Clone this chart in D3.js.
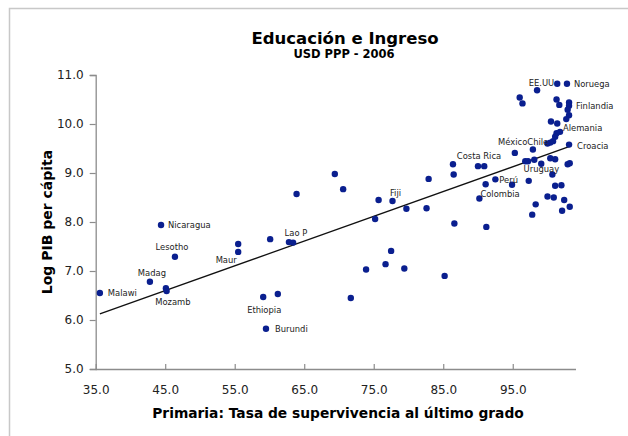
<!DOCTYPE html>
<html>
<head>
<meta charset="utf-8">
<script src="https://cdn.jsdelivr.net/npm/d3@7"></script>
<style>
  body { margin: 0; background: #fff; }
  svg { display: block; font-family: "DejaVu Sans", Verdana, sans-serif; }
</style>
</head>
<body>
<svg id="chart"></svg>
<script>
// ----------------------------------------
//  Data
// ----------------------------------------

// x: primary survival rate to last grade, y: log GDP per capita
var supervivencia = [
  35.6, 44.4, 46.4, 42.8, 45.1, 45.2, 55.5, 55.5, 60.1, 62.8,
  63.4, 59.1, 61.2, 59.5, 63.9, 69.4, 70.6, 75.7, 77.7, 79.7,
  82.6, 82.9, 75.2, 77.5, 73.9, 76.7, 79.4, 85.2, 71.7, 86.4,
  86.5, 90.0, 90.9, 86.6, 91.2, 90.2, 92.5, 91.1, 94.9, 95.3,
  97.9, 96.8, 97.2, 98.1, 99.1, 100.4, 101.1, 102.9, 103.2, 100.7,
  97.3, 101.1, 102.0, 100.0, 100.9, 102.4, 98.3, 102.1, 103.2, 97.8,
  103.1, 98.5, 101.4, 102.8, 96.0, 96.4, 101.3, 101.7, 103.1, 103.1,
  102.9, 103.1, 102.7, 100.5, 101.4, 101.8, 101.3, 101.1, 100.8, 100.4,
  100.0
];
var logPib = [
  6.55, 7.94, 7.29, 6.78, 6.65, 6.59, 7.39, 7.55, 7.65, 7.59,
  7.58, 6.47, 6.53, 5.82, 8.57, 8.98, 8.67, 8.45, 8.43, 8.27,
  8.28, 8.88, 8.06, 7.41, 7.03, 7.14, 7.05, 6.90, 6.45, 9.18,
  8.97, 9.14, 9.14, 7.97, 7.90, 8.48, 8.87, 8.77, 8.76, 9.41,
  9.48, 9.24, 9.24, 9.27, 9.19, 9.30, 9.28, 9.18, 9.20, 8.97,
  8.84, 8.74, 8.75, 8.52, 8.50, 8.45, 8.36, 8.23, 8.31, 8.15,
  9.58, 10.69, 10.82, 10.82, 10.54, 10.42, 10.50, 10.39, 10.44, 10.37,
  10.29, 10.18, 10.10, 10.05, 10.01, 9.84, 9.81, 9.74, 9.65, 9.62,
  9.60
];
// index of point -> country label
var paises = [
  [0, "Malawi"], [1, "Nicaragua"], [2, "Lesotho"], [3, "Madag"], [4, "Mozamb"],
  [6, "Maur"], [9, "Lao P"], [11, "Ethiopia"], [13, "Burundi"], [18, "Fiji"],
  [31, "Costa Rica"], [35, "Colombia"], [36, "Perú"], [49, "Uruguay"],
  [79, "MéxicoChile"], [75, "Alemania"], [60, "Croacia"], [69, "Finlandia"],
  [63, "Noruega"], [62, "EE.UU"]
];
var xTicks = [35, 45, 55, 65, 75, 85, 95];
var yTicks = [5, 6, 7, 8, 9, 10, 11];

// label placement: [anchor, dx, dy]
var labelPos = {
  "Malawi": ["start", 8, 0], "Nicaragua": ["start", 7, 0], "Lesotho": ["middle", -3, -10],
  "Madag": ["middle", 2, -9], "Mozamb": ["middle", 7, 14], "Maur": ["middle", -12, 8],
  "Lao P": ["middle", 7, -9], "Ethiopia": ["middle", 1, 13], "Burundi": ["start", 9, 0],
  "Fiji": ["middle", 3, -8], "Costa Rica": ["middle", 1, -10], "Colombia": ["start", 1, -4],
  "Perú": ["start", 4, 1], "Uruguay": ["middle", -11, -5], "MéxicoChile": ["end", -2, -1],
  "Alemania": ["start", 3, -4], "Croacia": ["start", 8, 1], "Finlandia": ["start", 7, 0],
  "Noruega": ["start", 7, 0], "EE.UU": ["end", -3, -1]
};

// ----------------------------------------
// Sizing the Chart
// ----------------------------------------
var width = 628, height = 436;
var svg = d3.select('#chart').attr('width', width).attr('height', height);

var x = d3.scaleLinear().domain([35, 104.1]).range([95.7, 576]);
var y = d3.scaleLinear().domain([5, 11]).range([369, 75]);

// outer chart border
svg.append('rect')
  .attr('x', 9.5).attr('y', 8.5).attr('width', 640).attr('height', 460)
  .attr('fill', 'none').attr('stroke', '#c8c8c8').attr('stroke-width', 1.5);

// ----------------------------------------
// Axes
// ----------------------------------------
var yAxis = svg.append('g')
  .attr('transform', 'translate(' + x(35) + ',0)')
  .call(d3.axisLeft(y).tickValues(yTicks).tickFormat(d3.format('.1f')).tickSize(6).tickPadding(6));

var xAxis = svg.append('g')
  .attr('transform', 'translate(0,' + y(5) + ')')
  .call(d3.axisBottom(x).tickValues(xTicks).tickFormat(d3.format('.1f')).tickSizeInner(-5).tickSizeOuter(0).tickPadding(16));

[xAxis, yAxis].forEach(function(g) {
  g.select('.domain').attr('stroke', '#8c8c8c').attr('stroke-width', 1.3);
  g.selectAll('.tick line').attr('stroke', '#8c8c8c').attr('stroke-width', 1.2);
  g.selectAll('.tick text').attr('fill', '#222').style('font-size', '12px')
    .style('font-family', '"DejaVu Sans", Verdana, sans-serif');
});
xAxis.select('.domain').attr('d', 'M' + x(35) + ',0.5H' + x(104.1));

// ----------------------------------------
// Trend line (least squares on the points)
// ----------------------------------------
var n = supervivencia.length;
var mx = d3.mean(supervivencia), my = d3.mean(logPib);
var sxy = 0, sxx = 0;
for (var i = 0; i < n; i++) {
  sxy += (supervivencia[i] - mx) * (logPib[i] - my);
  sxx += (supervivencia[i] - mx) * (supervivencia[i] - mx);
}
var slope = sxy / sxx, icpt = my - slope * mx;
var x0 = d3.min(supervivencia), x1 = d3.max(supervivencia);

svg.append('line')
  .attr('x1', x(x0)).attr('y1', y(icpt + slope * x0))
  .attr('x2', x(x1)).attr('y2', y(icpt + slope * x1))
  .attr('stroke', '#111').attr('stroke-width', 1.3);

// ----------------------------------------
// Points
// ----------------------------------------
svg.selectAll('circle.pt')
  .data(d3.range(n))
  .enter().append('circle')
  .attr('class', 'pt')
  .attr('cx', function(i) { return x(supervivencia[i]); })
  .attr('cy', function(i) { return y(logPib[i]); })
  .attr('r', 3.2)
  .attr('fill', '#0a1f8f');

svg.selectAll('text.lbl')
  .data(paises)
  .enter().append('text')
  .attr('class', 'lbl')
  .attr('x', function(d) { return x(supervivencia[d[0]]) + labelPos[d[1]][1]; })
  .attr('y', function(d) { return y(logPib[d[0]]) + labelPos[d[1]][2]; })
  .attr('dy', '0.35em')
  .attr('text-anchor', function(d) { return labelPos[d[1]][0]; })
  .style('font-size', '8.4px')
  .attr('fill', '#222')
  .text(function(d) { return d[1]; });

// ----------------------------------------
// Titles
// ----------------------------------------
svg.append('text').attr('x', 345).attr('y', 38).attr('dy', '0.35em')
  .attr('text-anchor', 'middle').style('font-size', '16.5px').style('font-weight', 'bold')
  .text('Educación e Ingreso');
svg.append('text').attr('x', 344).attr('y', 54).attr('dy', '0.35em')
  .attr('text-anchor', 'middle').style('font-size', '11.5px').style('font-weight', 'bold')
  .text('USD PPP - 2006');
svg.append('text').attr('x', 338).attr('y', 413).attr('dy', '0.35em')
  .attr('text-anchor', 'middle').style('font-size', '13.8px').style('font-weight', 'bold')
  .text('Primaria: Tasa de supervivencia al último grado');
svg.append('text')
  .attr('transform', 'translate(47,222) rotate(-90)').attr('dy', '0.35em')
  .attr('text-anchor', 'middle').style('font-size', '14px').style('font-weight', 'bold')
  .text('Log PIB per cápita');
</script>
</body>
</html>
